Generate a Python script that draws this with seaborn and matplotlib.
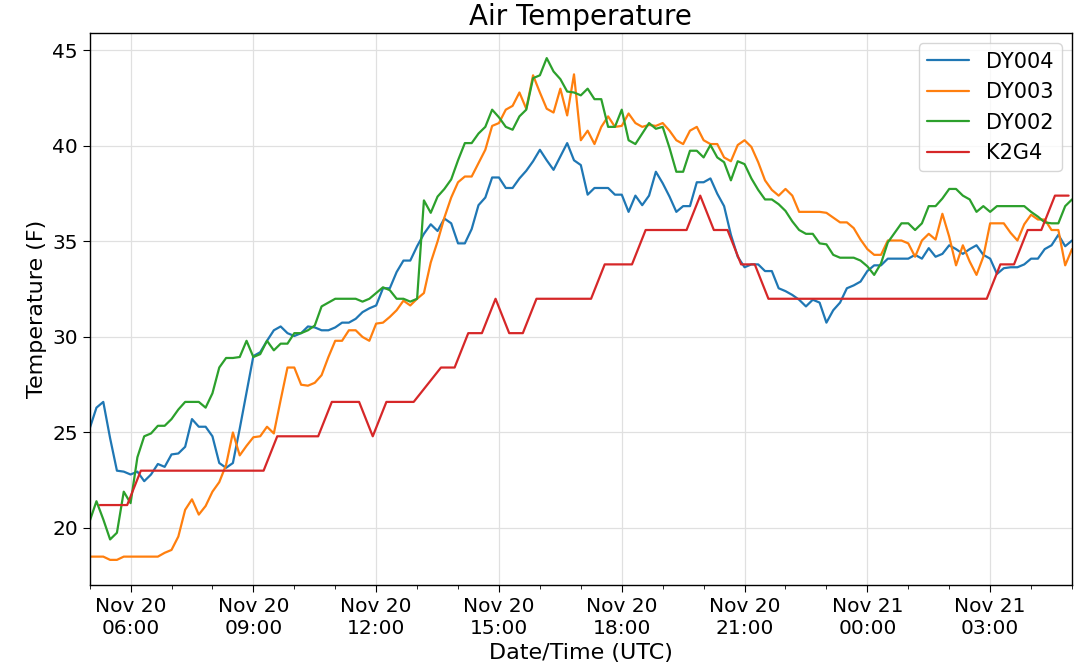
import pandas as pd
import numpy as np
import matplotlib
matplotlib.use("Agg")
import matplotlib.pyplot as plt
import matplotlib.dates as mdates
import seaborn as sns

sns.set_style("ticks")
plt.rcParams['font.family'] = ['DejaVu Sans']
plt.rcParams['text.color'] = 'black'
plt.rcParams['axes.labelcolor'] = 'black'
plt.rcParams['xtick.color'] = 'black'
plt.rcParams['ytick.color'] = 'black'

# 10-minute station readings, 20-minute AWOS readings (K2G4)
times_dy = pd.date_range('2019-11-20 05:00', periods=145, freq='10min')
times_k2g4 = pd.date_range('2019-11-20 05:15', periods=72, freq='20min')

dy004 = [25.2, 26.3, 26.6, 24.7, 23.0, 22.95, 22.8, 22.95, 22.45, 22.8,
         23.35, 23.2, 23.85, 23.9, 24.25, 25.7, 25.3, 25.3, 24.8, 23.4,
         23.15, 23.4, 25.2, 27.1, 29.0, 29.2, 29.8, 30.35, 30.55, 30.2,
         30.05, 30.2, 30.55, 30.5, 30.35, 30.35, 30.5, 30.75, 30.75, 30.95,
         31.3, 31.5, 31.65, 32.55, 32.55, 33.4, 34.0, 34.0, 34.75, 35.4,
         35.9, 35.55, 36.2, 35.95, 34.9, 34.9, 35.65, 36.9, 37.3, 38.35,
         38.35, 37.8, 37.8, 38.3, 38.7, 39.2, 39.8, 39.25, 38.75, 39.45,
         40.15, 39.25, 39.0, 37.45, 37.8, 37.8, 37.8, 37.45, 37.45, 36.55,
         37.4, 36.9, 37.4, 38.65, 38.05, 37.35, 36.55, 36.85, 36.85, 38.1,
         38.1, 38.3, 37.5, 36.85, 35.35, 34.2, 33.65, 33.8, 33.8, 33.45,
         33.45, 32.55, 32.4, 32.2, 31.95, 31.6, 31.95, 31.8, 30.75, 31.4,
         31.8, 32.55, 32.7, 32.9, 33.45, 33.75, 33.75, 34.1, 34.1, 34.1,
         34.1, 34.3, 34.1, 34.65, 34.2, 34.35, 34.8, 34.6, 34.35, 34.6,
         34.8, 34.3, 34.1, 33.3, 33.6, 33.65, 33.65, 33.8, 34.1, 34.1,
         34.6, 34.8, 35.35, 34.75, 35.05]

dy003 = [18.5, 18.5, 18.5, 18.33, 18.33, 18.5, 18.5, 18.5, 18.5, 18.5,
         18.5, 18.7, 18.85, 19.55, 20.95, 21.5, 20.7, 21.15, 21.9, 22.4,
         23.3, 25.0, 23.8, 24.3, 24.75, 24.8, 25.3, 24.95, 26.7, 28.4,
         28.4, 27.5, 27.45, 27.6, 28.0, 28.95, 29.8, 29.8, 30.35, 30.35,
         30.0, 29.8, 30.7, 30.75, 31.05, 31.4, 31.9, 31.65, 32.0, 32.3,
         33.9, 35.0, 36.25, 37.3, 38.1, 38.4, 38.4, 39.1, 39.8, 41.05,
         41.2, 41.9, 42.1, 42.8, 41.95, 43.7, 42.8, 41.95, 41.75, 43.0,
         41.6, 43.75, 40.3, 40.8, 40.1, 41.0, 41.55, 41.0, 41.05, 41.7,
         41.2, 41.0, 41.1, 41.05, 41.2, 40.8, 40.3, 40.1, 40.8, 41.0,
         40.3, 40.1, 40.1, 39.4, 39.2, 40.05, 40.3, 39.95, 39.15, 38.2,
         37.7, 37.4, 37.75, 37.4, 36.55, 36.55, 36.55, 36.55, 36.5, 36.25,
         36.0, 36.0, 35.7, 35.1, 34.6, 34.3, 34.3, 35.05, 35.05, 35.05,
         34.9, 34.2, 35.05, 35.4, 35.1, 36.45, 35.25, 33.75, 34.8, 33.95,
         33.25, 34.2, 35.95, 35.95, 35.95, 35.45, 35.05, 35.9, 36.4, 36.15,
         36.15, 35.6, 35.6, 33.75, 34.6]

dy002 = [20.35, 21.4, 20.45, 19.4, 19.75, 21.9, 21.3, 23.7, 24.8, 24.95,
         25.35, 25.35, 25.7, 26.2, 26.6, 26.6, 26.6, 26.3, 27.05, 28.4,
         28.9, 28.9, 28.95, 29.8, 28.95, 29.1, 29.8, 29.3, 29.65, 29.65,
         30.2, 30.2, 30.35, 30.6, 31.6, 31.8, 32.0, 32.0, 32.0, 32.0,
         31.85, 32.0, 32.3, 32.6, 32.45, 32.0, 32.0, 31.85, 32.0, 37.15,
         36.5, 37.35, 37.75, 38.25, 39.25, 40.15, 40.15, 40.65, 41.0, 41.9,
         41.5, 41.0, 40.85, 41.55, 41.9, 43.55, 43.7, 44.6, 43.9, 43.5,
         42.85, 42.8, 42.65, 43.0, 42.45, 42.45, 41.0, 41.0, 41.9, 40.3,
         40.1, 40.65, 41.2, 40.9, 41.0, 39.9, 38.65, 38.65, 39.75, 39.75,
         39.4, 40.05, 39.4, 39.15, 38.2, 39.2, 39.05, 38.3, 37.7, 37.2,
         37.2, 36.95, 36.6, 36.05, 35.6, 35.4, 35.4, 34.9, 34.85, 34.3,
         34.15, 34.15, 34.15, 34.0, 33.7, 33.25, 33.85, 34.95, 35.45, 35.95,
         35.95, 35.6, 35.95, 36.85, 36.85, 37.25, 37.75, 37.75, 37.4, 37.2,
         36.55, 36.85, 36.55, 36.85, 36.85, 36.85, 36.85, 36.85, 36.55, 36.3,
         36.0, 35.95, 35.95, 36.85, 37.2]

# None = missing report (13:15)
k2g4 = [21.2, 21.2, 21.2, 23.0, 23.0, 23.0, 23.0, 23.0, 23.0, 23.0,
        23.0, 23.0, 23.0, 24.8, 24.8, 24.8, 24.8, 26.6, 26.6, 26.6,
        24.8, 26.6, 26.6, 26.6, None, 28.4, 28.4, 30.2, 30.2, 32.0,
        30.2, 30.2, 32.0, 32.0, 32.0, 32.0, 32.0, 33.8, 33.8, 33.8,
        35.6, 35.6, 35.6, 35.6, 37.4, 35.6, 35.6, 33.8, 33.8, 32.0,
        32.0, 32.0, 32.0, 32.0, 32.0, 32.0, 32.0, 32.0, 32.0, 32.0,
        32.0, 32.0, 32.0, 32.0, 32.0, 32.0, 33.8, 33.8, 35.6, 35.6,
        37.4, 37.4]

stations = ['DY004', 'DY003', 'DY002', 'K2G4']
series = [(times_dy, dy004), (times_dy, dy003), (times_dy, dy002), (times_k2g4, k2g4)]

frames = []
for name, (t, v) in zip(stations, series):
    frames.append(pd.DataFrame({'time': t, 'temp': pd.to_numeric(pd.Series(v), errors='coerce'), 'station': name}))
df = pd.concat(frames, ignore_index=True).dropna()

fig, ax = plt.subplots(figsize=(10.8, 6.67), dpi=100)
sns.lineplot(data=df, x='time', y='temp', hue='station', hue_order=stations,
             palette=sns.color_palette('tab10', 4), estimator=None,
             linewidth=1.6, ax=ax)

ax.set_xlim(times_dy[0], times_dy[-1])
ax.xaxis.set_major_locator(mdates.HourLocator(byhour=range(0, 24, 3)))
ax.xaxis.set_minor_locator(mdates.HourLocator())
ax.xaxis.set_major_formatter(mdates.DateFormatter('%b %d\n%H:%M'))
ax.set_yticks([20, 25, 30, 35, 40, 45])

ax.grid(True, which='major', color='0.88', linewidth=0.9)
for s in ax.spines.values():
    s.set_color('black')
    s.set_linewidth(1.0)
ax.tick_params(axis='both', which='major', labelsize=14.5, length=5, color='black')
ax.tick_params(axis='x', which='minor', length=3, color='black')

ax.set_title('Air Temperature', fontsize=20)
ax.set_xlabel('Date/Time (UTC)', fontsize=16)
ax.set_ylabel('Temperature (F)', fontsize=16)

handles, labels = ax.get_legend_handles_labels()
ax.legend(handles, labels, loc='upper right', fontsize=15)

fig.subplots_adjust(left=0.083, right=0.9926, top=0.9505, bottom=0.123)
fig.savefig('out.png', dpi=100)
